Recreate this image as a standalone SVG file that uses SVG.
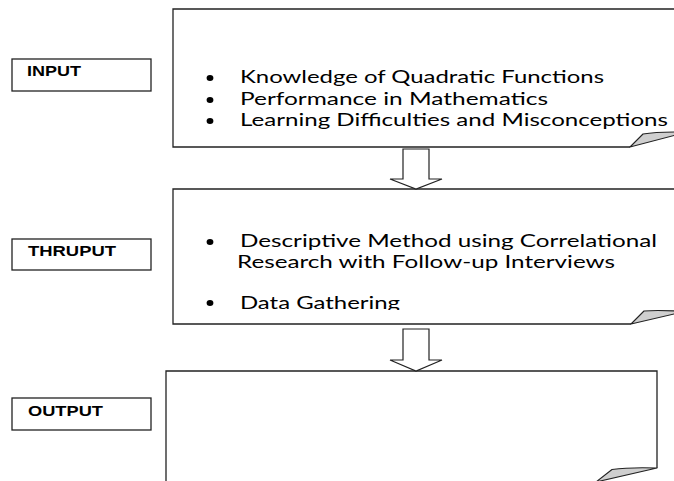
<svg xmlns="http://www.w3.org/2000/svg" width="674" height="481" viewBox="0 0 674 481">
  <style>
    .box { fill: #fff; stroke: #222; stroke-width: 1.3; }
    .edge { fill: none; stroke: #222; stroke-width: 1.3; }
    .curl { fill: #cfcfcf; stroke: #222; stroke-width: 1.1; stroke-linejoin: round; }
    .label { font-family: "Liberation Sans", Arial, sans-serif; font-weight: bold; font-size: 14px; fill: #000; }
    .item { font-family: Lato, "Open Sans", sans-serif; font-size: 17px; fill: #000; }
    .arrow { fill: #fff; stroke: #222; stroke-width: 1.2; stroke-linejoin: miter; }
  </style>
  <defs>
    <clipPath id="clip1"><rect x="174" y="10" width="500" height="119"/></clipPath>
    <clipPath id="clip2"><rect x="174" y="190" width="500" height="120"/></clipPath>
  </defs>
  <rect width="674" height="481" fill="#fff"/>

  <g id="input-label">
    <rect class="box" x="12" y="59" width="139" height="32"/>
    <text class="label" x="27" y="76" textLength="54" lengthAdjust="spacingAndGlyphs">INPUT</text>
  </g>
  <g id="thruput-label">
    <rect class="box" x="12" y="239" width="139" height="31"/>
    <text class="label" x="28" y="256" textLength="88" lengthAdjust="spacingAndGlyphs">THRUPUT</text>
  </g>
  <g id="output-label">
    <rect class="box" x="12" y="398" width="139" height="32"/>
    <text class="label" x="28" y="416" textLength="75" lengthAdjust="spacingAndGlyphs">OUTPUT</text>
  </g>

  <g id="input-box">
    <path class="edge" d="M690 9 H173 V147 H630"/>
    <path class="curl" d="M630 147 L643 134 Q655 132 676 132 L676 135 Z"/>
    <g clip-path="url(#clip1)">
      <ellipse cx="210" cy="78" rx="3.4" ry="3"/>
      <text class="item" x="240" y="83" textLength="364" lengthAdjust="spacingAndGlyphs">Knowledge of Quadratic Functions</text>
      <ellipse cx="210" cy="100" rx="3.4" ry="3"/>
      <text class="item" x="240" y="105" textLength="308" lengthAdjust="spacingAndGlyphs">Performance in Mathematics</text>
      <ellipse cx="210" cy="121" rx="3.4" ry="3"/>
      <text class="item" x="240" y="126" textLength="428" lengthAdjust="spacingAndGlyphs">Learning Difficulties and Misconceptions</text>
    </g>
  </g>

  <g id="thruput-box">
    <path class="edge" d="M690 189 H173 V324 H631"/>
    <path class="curl" d="M631 324 L644 311 Q656 310 676 311 L676 313.5 Z"/>
    <g clip-path="url(#clip2)">
      <ellipse cx="210" cy="242" rx="3.4" ry="3"/>
      <text class="item" x="240" y="247" textLength="417" lengthAdjust="spacingAndGlyphs">Descriptive Method using Correlational</text>
      <text class="item" x="237" y="268" textLength="378" lengthAdjust="spacingAndGlyphs">Research with Follow-up Interviews</text>
      <ellipse cx="210" cy="303" rx="3.4" ry="3"/>
      <text class="item" x="240" y="309" textLength="160" lengthAdjust="spacingAndGlyphs">Data Gathering</text>
    </g>
  </g>

  <g id="output-box">
    <path class="edge" d="M166 490 V371 H657 V468"/>
    <path class="curl" d="M657 468 Q630 467 612 469.5 L596 482 Z"/>
  </g>

  <g id="connectors">
    <path class="arrow" d="M403 149 H429 V179 H442 L416 189 L390 179 H403 Z"/>
    <path class="arrow" d="M403 329 H429 V360 H442 L416 371 L390 360 H403 Z"/>
  </g>
</svg>
